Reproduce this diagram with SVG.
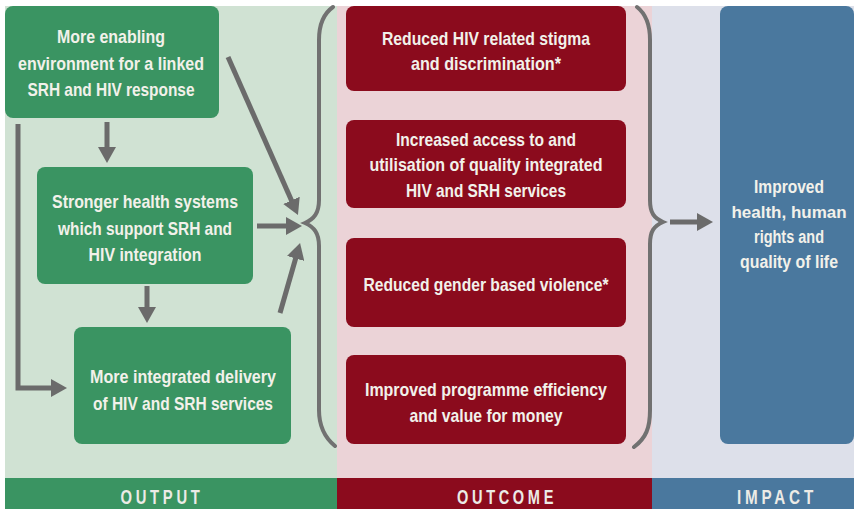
<svg xmlns="http://www.w3.org/2000/svg" width="854" height="509" viewBox="0 0 854 509">
  <style>
    .t { font-family: "Liberation Sans", Arial, sans-serif; font-weight: bold; font-size: 19px; fill: #f2f1ea; text-anchor: middle; }
    .ti { font-size: 18px; }
    .band { font-family: "Liberation Sans", Arial, sans-serif; font-weight: bold; font-size: 20px; fill: #ecebe6; text-anchor: middle; letter-spacing: 5px; }
    .out { fill: #3a9462; }
    .oc { fill: #8b0b1d; }
    .im { fill: #4a789e; }
    .arr { fill: none; stroke: #6b6b6b; stroke-width: 5; marker-end: url(#head); }
    .brace { fill: none; stroke: #717171; stroke-width: 4; stroke-linecap: round; }
  </style>
  <defs>
    <marker id="head" markerUnits="userSpaceOnUse" viewBox="0 0 16 18" refX="2" refY="9" markerWidth="16" markerHeight="18" orient="auto">
      <path d="M0,0 L16,9 L0,18 z" fill="#6b6b6b"/>
    </marker>
  </defs>

  <!-- page -->
  <rect x="0" y="0" width="854" height="509" fill="#ffffff"/>

  <!-- column backgrounds -->
  <rect x="5" y="6" width="332" height="472" fill="#d0e2d3"/>
  <rect x="337" y="6" width="315" height="472" fill="#ebd3d7"/>
  <rect x="652" y="6" width="202" height="472" fill="#dde0ea"/>

  <!-- column footers -->
  <g id="band-output">
    <rect class="out" x="5" y="478" width="332" height="31"/>
    <text class="band" x="162" y="504" textLength="83" lengthAdjust="spacingAndGlyphs">OUTPUT</text>
  </g>
  <g id="band-outcome">
    <rect class="oc" x="337" y="478" width="315" height="31"/>
    <text class="band" x="507" y="504" textLength="100" lengthAdjust="spacingAndGlyphs">OUTCOME</text>
  </g>
  <g id="band-impact">
    <rect class="im" x="652" y="478" width="202" height="31"/>
    <text class="band" x="777" y="504" textLength="80" lengthAdjust="spacingAndGlyphs">IMPACT</text>
  </g>

  <!-- output nodes -->
  <g id="enabling-environment">
    <rect class="out" x="5" y="6" width="214" height="112" rx="8"/>
    <text class="t" x="111" y="43" textLength="108" lengthAdjust="spacingAndGlyphs">More enabling</text>
    <text class="t" x="111" y="70" textLength="186" lengthAdjust="spacingAndGlyphs">environment for a linked</text>
    <text class="t" x="111" y="96" textLength="167" lengthAdjust="spacingAndGlyphs">SRH and HIV response</text>
  </g>
  <g id="health-systems">
    <rect class="out" x="37" y="167" width="216" height="117" rx="8"/>
    <text class="t" x="145" y="208" textLength="186" lengthAdjust="spacingAndGlyphs">Stronger health systems</text>
    <text class="t" x="145" y="235" textLength="174" lengthAdjust="spacingAndGlyphs">which support SRH and</text>
    <text class="t" x="145" y="261" textLength="113" lengthAdjust="spacingAndGlyphs">HIV integration</text>
  </g>
  <g id="integrated-delivery">
    <rect class="out" x="74" y="327" width="217" height="117" rx="8"/>
    <text class="t" x="183" y="383" textLength="186" lengthAdjust="spacingAndGlyphs">More integrated delivery</text>
    <text class="t" x="183" y="410" textLength="180" lengthAdjust="spacingAndGlyphs">of HIV and SRH services</text>
  </g>

  <!-- outcome nodes -->
  <g id="stigma">
    <rect class="oc" x="346" y="6" width="280" height="85" rx="8"/>
    <text class="t" x="486" y="45" textLength="208" lengthAdjust="spacingAndGlyphs">Reduced HIV related stigma</text>
    <text class="t" x="486" y="70" textLength="150" lengthAdjust="spacingAndGlyphs">and discrimination*</text>
  </g>
  <g id="access">
    <rect class="oc" x="346" y="120" width="280" height="88" rx="8"/>
    <text class="t" x="486" y="146" textLength="180" lengthAdjust="spacingAndGlyphs">Increased access to and</text>
    <text class="t" x="486" y="171" textLength="233" lengthAdjust="spacingAndGlyphs">utilisation of quality integrated</text>
    <text class="t" x="486" y="197" textLength="160" lengthAdjust="spacingAndGlyphs">HIV and SRH services</text>
  </g>
  <g id="gbv">
    <rect class="oc" x="346" y="238" width="280" height="89" rx="8"/>
    <text class="t" x="486" y="291" textLength="245" lengthAdjust="spacingAndGlyphs">Reduced gender based violence*</text>
  </g>
  <g id="efficiency">
    <rect class="oc" x="346" y="355" width="280" height="89" rx="8"/>
    <text class="t" x="486" y="396" textLength="242" lengthAdjust="spacingAndGlyphs">Improved programme efficiency</text>
    <text class="t" x="486" y="422" textLength="153" lengthAdjust="spacingAndGlyphs">and value for money</text>
  </g>

  <!-- impact node -->
  <g id="impact">
    <rect class="im" x="720" y="6" width="134" height="438" rx="8"/>
    <text class="t ti" x="789" y="193" textLength="70" lengthAdjust="spacingAndGlyphs">Improved</text>
    <text class="t" x="789" y="218" style="font-size:17px">health, human</text>
    <text class="t ti" x="789" y="243" textLength="70" lengthAdjust="spacingAndGlyphs">rights and</text>
    <text class="t ti" x="789" y="268" textLength="98" lengthAdjust="spacingAndGlyphs">quality of life</text>
  </g>

  <!-- connectors -->
  <g id="connectors">
    <path class="arr" d="M107,122 V149"/>
    <path class="arr" d="M18,124 V388 H53"/>
    <path class="arr" d="M147,286 V309"/>
    <path class="arr" d="M228,57 L292.3,202.2"/>
    <path class="arr" d="M257,226 H288"/>
    <path class="arr" d="M280,313 L296.2,256.5"/>
    <path class="arr" d="M670,222 H699"/>
    <path class="brace" d="M333,7 C323,14 319,24 319,40 L319,200 C319,213 314,219 305,223 C314,227 319,233 319,246 L319,410 C319,426 324,437 335,446"/>
    <path class="brace" d="M637,7 C646,14 650,24 650,40 L650,200 C650,213 654,218 663,222 C654,226 650,231 650,244 L650,410 C650,428 646,438 634,447"/>
  </g>
</svg>
